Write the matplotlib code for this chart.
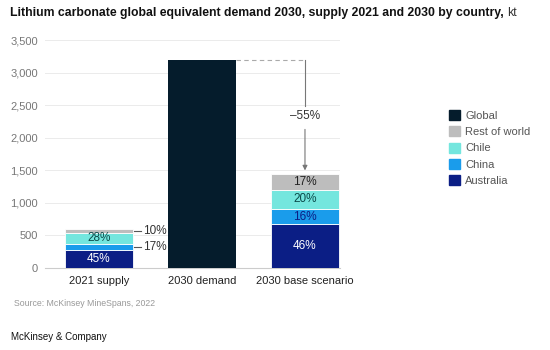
import matplotlib
matplotlib.use("Agg")
import matplotlib.pyplot as plt
from matplotlib.patches import Patch

plt.rcParams['font.family'] = ['Liberation Sans', 'DejaVu Sans']

categories = ["2021 supply", "2030 demand", "2030 base scenario"]
series_names = ["Australia", "China", "Chile", "Rest of world"]
supply_2021 = [270, 102, 168, 60]
base_2030 = [670, 235, 295, 250]
demand_2030 = 3200
pct_2021 = ["45%", "17%", "28%", "10%"]
pct_2030 = ["46%", "16%", "20%", "17%"]
yticks = [0, 500, 1000, 1500, 2000, 2500, 3000, 3500]
change_label = "\u201355%"

colors = {"Australia": "#0B1E85", "China": "#1A9CEB", "Chile": "#74E6DE",
          "Rest of world": "#BDBDBD", "Global": "#051C2C"}
text_colors = {"Australia": "white", "China": "#0B1E85", "Chile": "#0B4A4A",
               "Rest of world": "#222222"}

fig = plt.figure(figsize=(5.5, 3.5), dpi=100)
ax = fig.add_axes([45/550, 1-268/350, 295/550, 228/350])
w = 0.66

for x, vals, pcts in [(0, supply_2021, pct_2021), (2, base_2030, pct_2030)]:
    bottom = 0
    for name, v, p in zip(series_names, vals, pcts):
        ax.bar(x, v, w, bottom=bottom, color=colors[name], edgecolor='white', linewidth=0.6, zorder=3)
        if x == 2 or name in ("Australia", "Chile"):
            ax.text(x, bottom + v/2, p, ha='center', va='center', fontsize=8.5,
                    color=text_colors[name], zorder=4)
        bottom += v

ax.bar(1, demand_2030, w, color=colors["Global"], zorder=3)

# callouts for 2021 small segments
for idx, ybase in [(1, supply_2021[0]), (3, sum(supply_2021[:3]))]:
    yc = ybase + supply_2021[idx]/2
    ax.plot([w/2 + 0.01, w/2 + 0.08], [yc, yc], color='#555555', lw=0.8, zorder=4)
    ax.text(w/2 + 0.1, yc, pct_2021[idx], ha='left', va='center', fontsize=8.5, color='#333333')

# dashed connector and arrow
base_total = sum(base_2030)
ax.plot([1 + w/2, 2], [demand_2030, demand_2030], color='#AAAAAA', lw=0.8, ls=(0, (4, 3)), zorder=2)
mid = 2330
ax.plot([2, 2], [demand_2030, mid + 150], color='#777777', lw=0.8)
ax.annotate("", xy=(2, base_total + 5), xytext=(2, mid - 160),
            arrowprops=dict(arrowstyle='-|>', color='#777777', lw=0.8, mutation_scale=7))
ax.text(2, mid, change_label, ha='center', va='center', fontsize=8.5, color='#333333')

ax.set_ylim(0, 3500)
ax.set_xlim(-0.524, 2.34)
ax.set_yticks(yticks)
ax.set_yticklabels([f"{t:,}" for t in yticks], fontsize=8, color='#777777')
ax.set_xticks([0, 1, 2])
ax.set_xticklabels(categories, fontsize=8, color='#222222')
ax.grid(axis='y', color='#EBEBEB', lw=0.7, zorder=0)
for s in ['top', 'right', 'left']:
    ax.spines[s].set_visible(False)
ax.spines['bottom'].set_color('#CCCCCC')
ax.tick_params(axis='both', length=0, pad=5)
ax.tick_params(axis='x', pad=6)

labels = ["Global", "Rest of world", "Chile", "China", "Australia"]
handles = [Patch(color=colors[n]) for n in labels]
leg = fig.legend(handles, labels, loc='upper left', bbox_to_anchor=(439/550, 1-100/350),
                 frameon=False, fontsize=8, handlelength=1.0, handleheight=1.0,
                 handletextpad=0.45, labelspacing=0.5)
for t in leg.get_texts():
    t.set_color('#555555')

t0 = fig.text(10/550, 1-13/350, "Lithium carbonate global equivalent demand 2030, supply 2021 and 2030 by country, ",
              fontsize=8.8, fontweight='bold', color='#111111', va='center', ha='left')
r = fig.canvas.get_renderer()
bb = t0.get_window_extent(renderer=r)
fig.text(bb.x1/fig.bbox.width, 1-13/350, "kt", fontsize=8.8, color='#333333', va='center', ha='left')

fig.text(14/550, 1-303/350, "Source: McKinsey MineSpans, 2022", fontsize=6.3, color='#999999', va='center')
fig.text(11/550, 1-337/350, "McKinsey & Company", fontsize=7, color='#111111', va='center')

fig.savefig("out.png", dpi=100)
